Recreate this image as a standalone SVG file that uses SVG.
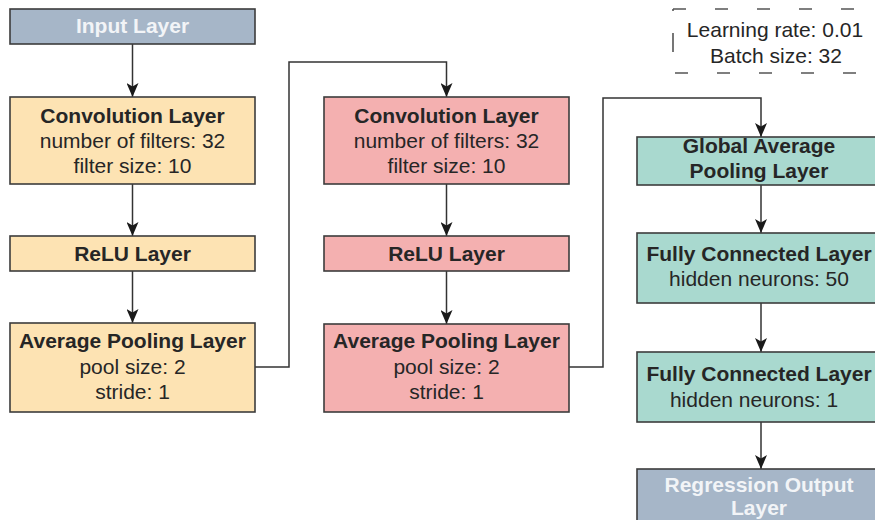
<svg xmlns="http://www.w3.org/2000/svg" width="875" height="520" viewBox="0 0 875 520">
  <defs>
    <marker id="arrow" viewBox="0 0 14 12" refX="14" refY="6" markerWidth="14" markerHeight="12" markerUnits="userSpaceOnUse" orient="auto">
      <path d="M0,0 L14,6 L0,12 L3.5,6 Z" fill="#1a1a1a"/>
    </marker>
    <style>
      .box { stroke: #3c3c3c; stroke-width: 1.6; }
      .io { fill: #a6b6c8; }
      .orange { fill: #fde3b3; }
      .pink { fill: #f4b0b0; }
      .teal { fill: #a9d9cf; }
      text { font-family: "Liberation Sans", Arial, sans-serif; font-size: 21px; text-anchor: middle; fill: #262626; }
      .b { font-weight: bold; }
      .w { fill: #f2f4f7; font-weight: bold; }
      .edge { fill: none; stroke: #333; stroke-width: 1.5; }
      .dash { fill: none; stroke: #555; stroke-width: 1.6; }
    </style>
  </defs>

  <rect width="875" height="520" fill="#ffffff"/>

  <!-- connectors -->
  <g id="connectors">
    <path class="edge" d="M132.5,44 V97" marker-end="url(#arrow)"/>
    <path class="edge" d="M132.5,184 V236" marker-end="url(#arrow)"/>
    <path class="edge" d="M132.5,271 V323" marker-end="url(#arrow)"/>
    <path class="edge" d="M255,367 H289 V62 H446.5 V97" marker-end="url(#arrow)"/>
    <path class="edge" d="M446.5,184 V236" marker-end="url(#arrow)"/>
    <path class="edge" d="M446.5,271 V324" marker-end="url(#arrow)"/>
    <path class="edge" d="M569,367 H603 V98 H761 V137" marker-end="url(#arrow)"/>
    <path class="edge" d="M761,185 V233" marker-end="url(#arrow)"/>
    <path class="edge" d="M761,303 V352" marker-end="url(#arrow)"/>
    <path class="edge" d="M761,422 V469" marker-end="url(#arrow)"/>
  </g>

  <!-- column 1 -->
  <g id="input">
    <rect class="box io" x="10" y="9" width="245" height="35"/>
    <text class="w" x="132.5" y="33">Input Layer</text>
  </g>
  <g id="conv1">
    <rect class="box orange" x="10" y="97" width="245" height="87"/>
    <text class="b" x="132.5" y="123">Convolution Layer</text>
    <text x="132.5" y="148">number of filters: 32</text>
    <text x="132.5" y="173">filter size: 10</text>
  </g>
  <g id="relu1">
    <rect class="box orange" x="10" y="236" width="245" height="35"/>
    <text class="b" x="132.5" y="261">ReLU Layer</text>
  </g>
  <g id="pool1">
    <rect class="box orange" x="10" y="323" width="245" height="89"/>
    <text class="b" x="132.5" y="348">Average Pooling Layer</text>
    <text x="132.5" y="374">pool size: 2</text>
    <text x="132.5" y="399">stride: 1</text>
  </g>

  <!-- column 2 -->
  <g id="conv2">
    <rect class="box pink" x="324" y="97" width="245" height="87"/>
    <text class="b" x="446.5" y="123">Convolution Layer</text>
    <text x="446.5" y="148">number of filters: 32</text>
    <text x="446.5" y="173">filter size: 10</text>
  </g>
  <g id="relu2">
    <rect class="box pink" x="324" y="236" width="245" height="35"/>
    <text class="b" x="446.5" y="261">ReLU Layer</text>
  </g>
  <g id="pool2">
    <rect class="box pink" x="324" y="324" width="245" height="88"/>
    <text class="b" x="446.5" y="348">Average Pooling Layer</text>
    <text x="446.5" y="374">pool size: 2</text>
    <text x="446.5" y="399">stride: 1</text>
  </g>

  <!-- column 3 -->
  <g id="gap">
    <rect class="box teal" x="637" y="137" width="250" height="48"/>
    <text class="b" x="759" y="153">Global Average</text>
    <text class="b" x="759" y="178">Pooling Layer</text>
  </g>
  <g id="fc1">
    <rect class="box teal" x="637" y="233" width="250" height="70"/>
    <text class="b" x="759" y="261">Fully Connected Layer</text>
    <text x="759" y="286">hidden neurons: 50</text>
  </g>
  <g id="fc2">
    <rect class="box teal" x="637" y="352" width="250" height="70"/>
    <text class="b" x="759" y="381">Fully Connected Layer</text>
    <text x="754" y="407">hidden neurons: 1</text>
  </g>
  <g id="output">
    <rect class="box io" x="637" y="469" width="250" height="60"/>
    <text class="w" x="759" y="492">Regression Output</text>
    <text class="w" x="759" y="515">Layer</text>
  </g>

  <!-- training settings -->
  <g id="settings">
    <path class="dash" d="M673,9 H862" stroke-dasharray="13 29"/>
    <path class="dash" d="M675,73 H862" stroke-dasharray="13 29"/>
    <path class="dash" d="M673,9 V73" stroke-dasharray="2 22 19 60"/>
    <text x="775" y="37">Learning rate: 0.01</text>
    <text x="776" y="63">Batch size: 32</text>
  </g>
</svg>
